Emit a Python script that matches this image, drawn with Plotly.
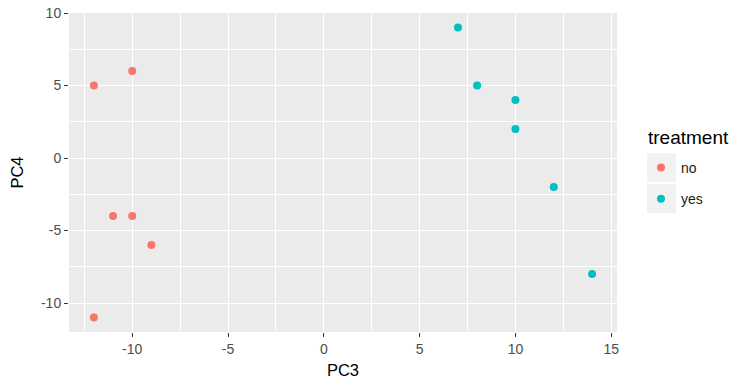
import plotly.graph_objects as go

no_x = [-12, -10, -11, -10, -9, -12]
no_y = [5, 6, -4, -4, -6, -11]
yes_x = [7, 8, 10, 10, 12, 14]
yes_y = [9, 5, 4, 2, -2, -8]
x_ticks = [-10, -5, 0, 5, 10, 15]
y_ticks = [-10, -5, 0, 5, 10]

FONT = "Liberation Sans, Arial, Helvetica, sans-serif"

ML, MR, MT, MB = 69, 123, 13, 51
W, H = 740, 383
PW, PH = W - ML - MR, H - MT - MB


def px_x(x):
    return (x - ML) / PW


def px_y(y):
    return (H - MB - y) / PH


fig = go.Figure()
fig.add_trace(go.Scatter(x=no_x, y=no_y, mode="markers", name="no", legendgroup="no",
                         marker=dict(color="#F8766D", size=8)))
fig.add_trace(go.Scatter(x=yes_x, y=yes_y, mode="markers", name="yes", legendgroup="yes",
                         marker=dict(color="#00BFC4", size=8)))

axis_common = dict(
    showgrid=True, gridcolor="white", gridwidth=1.4,
    zeroline=False, showline=False,
    ticks="outside", ticklen=4, tickcolor="#333333", tickwidth=1,
    tickfont=dict(family=FONT, size=14, color="#4D4D4D"),
)

fig.update_xaxes(range=[-13.3, 15.3], tickvals=x_ticks,
                 ticktext=[str(v) for v in x_ticks],
                 title=dict(text="PC3", font=dict(family=FONT, size=16.5, color="black"), standoff=8),
                 minor=dict(showgrid=True, gridcolor="white", gridwidth=0.6, ticks="",
                            tickvals=[-12.5, -7.5, -2.5, 2.5, 7.5, 12.5]),
                 **axis_common)
fig.update_yaxes(range=[-12, 10], tickvals=y_ticks,
                 ticktext=[str(v) for v in y_ticks],
                 title=dict(text="PC4", font=dict(family=FONT, size=16.5, color="black"), standoff=13),
                 minor=dict(showgrid=True, gridcolor="white", gridwidth=0.6, ticks="",
                            tickvals=[-7.5, -2.5, 2.5, 7.5]),
                 **axis_common)

# legend key backgrounds
for top, bot in [(153, 182), (184, 213)]:
    fig.add_shape(type="rect", xref="paper", yref="paper",
                  x0=px_x(647), x1=px_x(676), y0=px_y(bot), y1=px_y(top),
                  fillcolor="#F2F2F2", line=dict(width=0), layer="below")

fig.add_annotation(text="treatment", xref="paper", yref="paper",
                   x=px_x(646), y=px_y(150), xanchor="left", yanchor="bottom",
                   showarrow=False, font=dict(family=FONT, size=19, color="black"))

fig.update_layout(
    width=W, height=H,
    margin=dict(l=ML, r=MR, t=MT, b=MB, autoexpand=False),
    plot_bgcolor="#EBEBEB", paper_bgcolor="white",
    font=dict(family=FONT),
    legend=dict(
        font=dict(family=FONT, size=14, color="#1A1A1A"),
        x=px_x(641), xanchor="left", y=px_y(152), yanchor="top",
        bgcolor="rgba(0,0,0,0)", tracegroupgap=10, itemsizing="trace",
    ),
)

fig.write_html("out.html", post_script="document.body.style.margin='0';",
               config={"displayModeBar": False})
